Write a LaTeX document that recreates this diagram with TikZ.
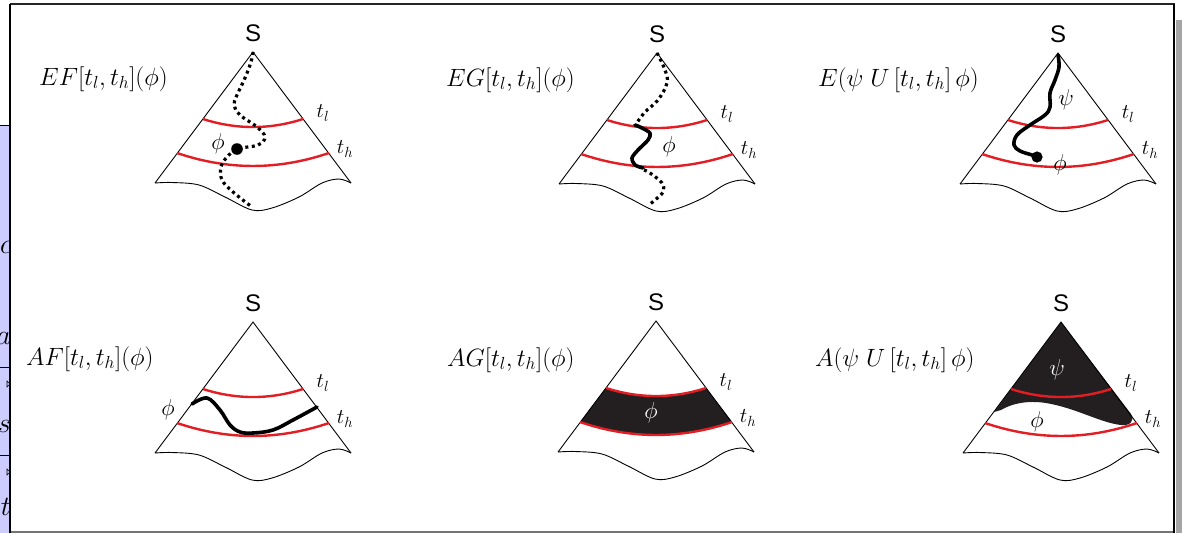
\RequirePackage{fix-cm}
\documentclass[tikz,border=0pt]{standalone}
\usepackage{fontspec}
\newfontfamily\sfS{Liberation Sans}
\definecolor{cred}{RGB}{226,30,36}
\definecolor{cfill}{RGB}{35,31,32}
\definecolor{lav}{RGB}{204,204,255}
\definecolor{shadowgray}{RGB}{165,165,165}
\tikzset{
 edge/.style={line width=0.9pt, line join=miter},
 redarc/.style={draw=cred, line width=2.4pt},
 dotline/.style={line width=3.2pt, dash pattern=on 3pt off 3.5pt},
 solidline/.style={line width=3.6pt, line cap=round, line join=round},
 lbl/.style={inner sep=0pt, anchor=base west, font=\fontsize{25}{29}\selectfont},
 tlbl/.style={inner sep=0pt, font=\fontsize{21}{25}\selectfont},
 glbl/.style={inner sep=0pt, font=\fontsize{23}{27}\selectfont},
 slbl/.style={inner sep=0pt, font=\fontsize{24}{28}\sfS},
 frag/.style={inner sep=0pt, anchor=base east, font=\fontsize{28}{32}\selectfont},
}
\newcommand{\conelines}[1]{%
 \draw[edge] (-98,131) -- (0,0) -- (98,131);
 \draw[edge] plot[smooth,tension=0.55] coordinates {(-98,131) (-81,130.5) (-54,133) (-28,145) (-1,158) (19,156) (46,145) (69,131) (86,127) (98,131)};
 \draw[redarc] (-50,67) .. controls (-17,77.7) and (17,77.7) .. (50,67);
 \draw[redarc] (-76,101) .. controls (-25,118.3) and (25,118.3) .. (76,101);
 \node[slbl] (S#1) at (0,-19) {S};
 \node[tlbl] (tl#1) at (70,61) {$t_l$};
 \node[tlbl] (th#1) at (92,97) {$t_h$};
}
\begin{document}
\begin{tikzpicture}[x=1pt,y=-1pt]
\useasboundingbox (0,0) rectangle (1182,533);
% left strip (other slide, cut off)
\fill[lav] (0,125) rectangle (10,533);
\draw[line width=1pt] (0,125) -- (10,125);
\begin{scope}
 \clip (0,125) rectangle (10,533);
 \node[frag] (fc) at (12,253) {$c$};
 \node[frag] (fa) at (11,344) {$a$};
 \node[frag] (fs) at (11,432) {$s$};
 \node[frag] (ft) at (11,515) {$t$};
 \draw[line width=1pt] (0,367) -- (10,367) (0,455) -- (10,455);
 \draw[line width=0.6pt] (7,381) -- (10,384) -- (7,387) -- cycle;
 \draw[line width=0.6pt] (7,469) -- (10,472) -- (7,475) -- cycle;
\end{scope}
% frame
\fill[shadowgray] (1176,20) rectangle (1182,533);
\draw[line width=1.2pt, black!55] (10,532) -- (1175,532);
\draw[line width=1.6pt, black!85] (10,4) -- (1175,4);
\draw[line width=2pt] (10,4) -- (10,533);
\draw[line width=2.5pt] (1174,3.5) -- (1174,533);

% ---- cone 1: EF
\node[lbl] (l1) at (39,85) {$EF[t_l,t_h](\phi)$};
\begin{scope}[shift={(253,52)}]
 \conelines{a}
 \draw[dotline] plot[smooth,tension=0.6] coordinates {(0,0) (-2,10) (-8,26) (-16,43) (-19,53) (-13,63) (4,75) (12,85) (5,93) (-16,97) (-26,105) (-32,115) (-31,128) (-20,140) (-1,155)};
 \fill (-16,97) circle[radius=5.8pt];
 \node[glbl] (p1) at (-35,92) {$\phi$};
\end{scope}

% ---- cone 2: EG
\node[lbl] (l2) at (446,86) {$EG[t_l,t_h](\phi)$};
\begin{scope}[shift={(657,53)}]
 \conelines{b}
 \draw[dotline] plot[smooth,tension=0.6] coordinates {(0,0) (8,17) (10,30) (1,47) (-12,59) (-21,71)};
 \draw[solidline] plot[smooth,tension=0.5] coordinates {(-22,72) (-17,74) (-7,80) (-9,87) (-19,97) (-25,105) (-22,112) (-14,115)};
 \draw[dotline] plot[smooth,tension=0.6] coordinates {(-13,117) (-7,120) (5,130) (6,139) (-2,147) (-7,151)};
 \node[glbl] (p2) at (12,94) {$\phi$};
\end{scope}

% ---- cone 3: E(psi U ...)
\node[lbl] (l3) at (818,86) {$E(\psi\;U\,[t_l,t_h]\,\phi)$};
\begin{scope}[shift={(1058,53)}]
 \conelines{c}
 \draw[solidline] plot[smooth,tension=0.6] coordinates {(0,2) (1,14) (-3,27) (-8,40) (-8,54) (-13,62) (-28,72) (-41,82) (-44,92) (-38,98) (-26,102) (-21,104)};
 \fill (-21,104) circle[radius=5.6pt];
 \node[glbl] (q3) at (8,47) {$\psi$};
 \node[glbl] (p3) at (2,112) {$\phi$};
\end{scope}

% ---- cone 4: AF
\node[lbl] (l4) at (26,365) {$AF[t_l,t_h](\phi)$};
\begin{scope}[shift={(253,322)}]
 \conelines{d}
 \draw[solidline] plot[smooth,tension=0.6] coordinates {(-61,82) (-46,76) (-33,88) (-23,103) (-13,110) (0,111) (20,108) (40,98) (64,85)};
 \node[glbl] (p4) at (-85,88) {$\phi$};
\end{scope}

% ---- cone 5: AG
\node[lbl] (l5) at (447,366) {$AG[t_l,t_h](\phi)$};
\begin{scope}[shift={(656,321)}]
 \fill[cfill] (-50,67) .. controls (-17,77.7) and (17,77.7) .. (50,67) -- (76,101) .. controls (25,118.3) and (-25,118.3) .. (-76,101) -- cycle;
 \conelines{e}
 \node[glbl,white] (p5) at (-5,92) {$\phi$};
\end{scope}

% ---- cone 6: A(psi U ...)
\node[lbl] (l6) at (815,366) {$A(\psi\;U\,[t_l,t_h]\,\phi)$};
\begin{scope}[shift={(1061,322)}]
 \fill[cfill] (0,0) -- (70,92) .. controls (74,99) and (69,104) .. (60,103) .. controls (40,101) and (15,86) .. (-15,81) .. controls (-35,78) and (-50,82) .. (-60,88) -- (-67,90) -- cycle;
 \conelines{f}
 \node[glbl,white] (q6) at (-4,48) {$\psi$};
 \node[glbl] (p6) at (-24,100) {$\phi$};
\end{scope}
\end{tikzpicture}
\end{document}
